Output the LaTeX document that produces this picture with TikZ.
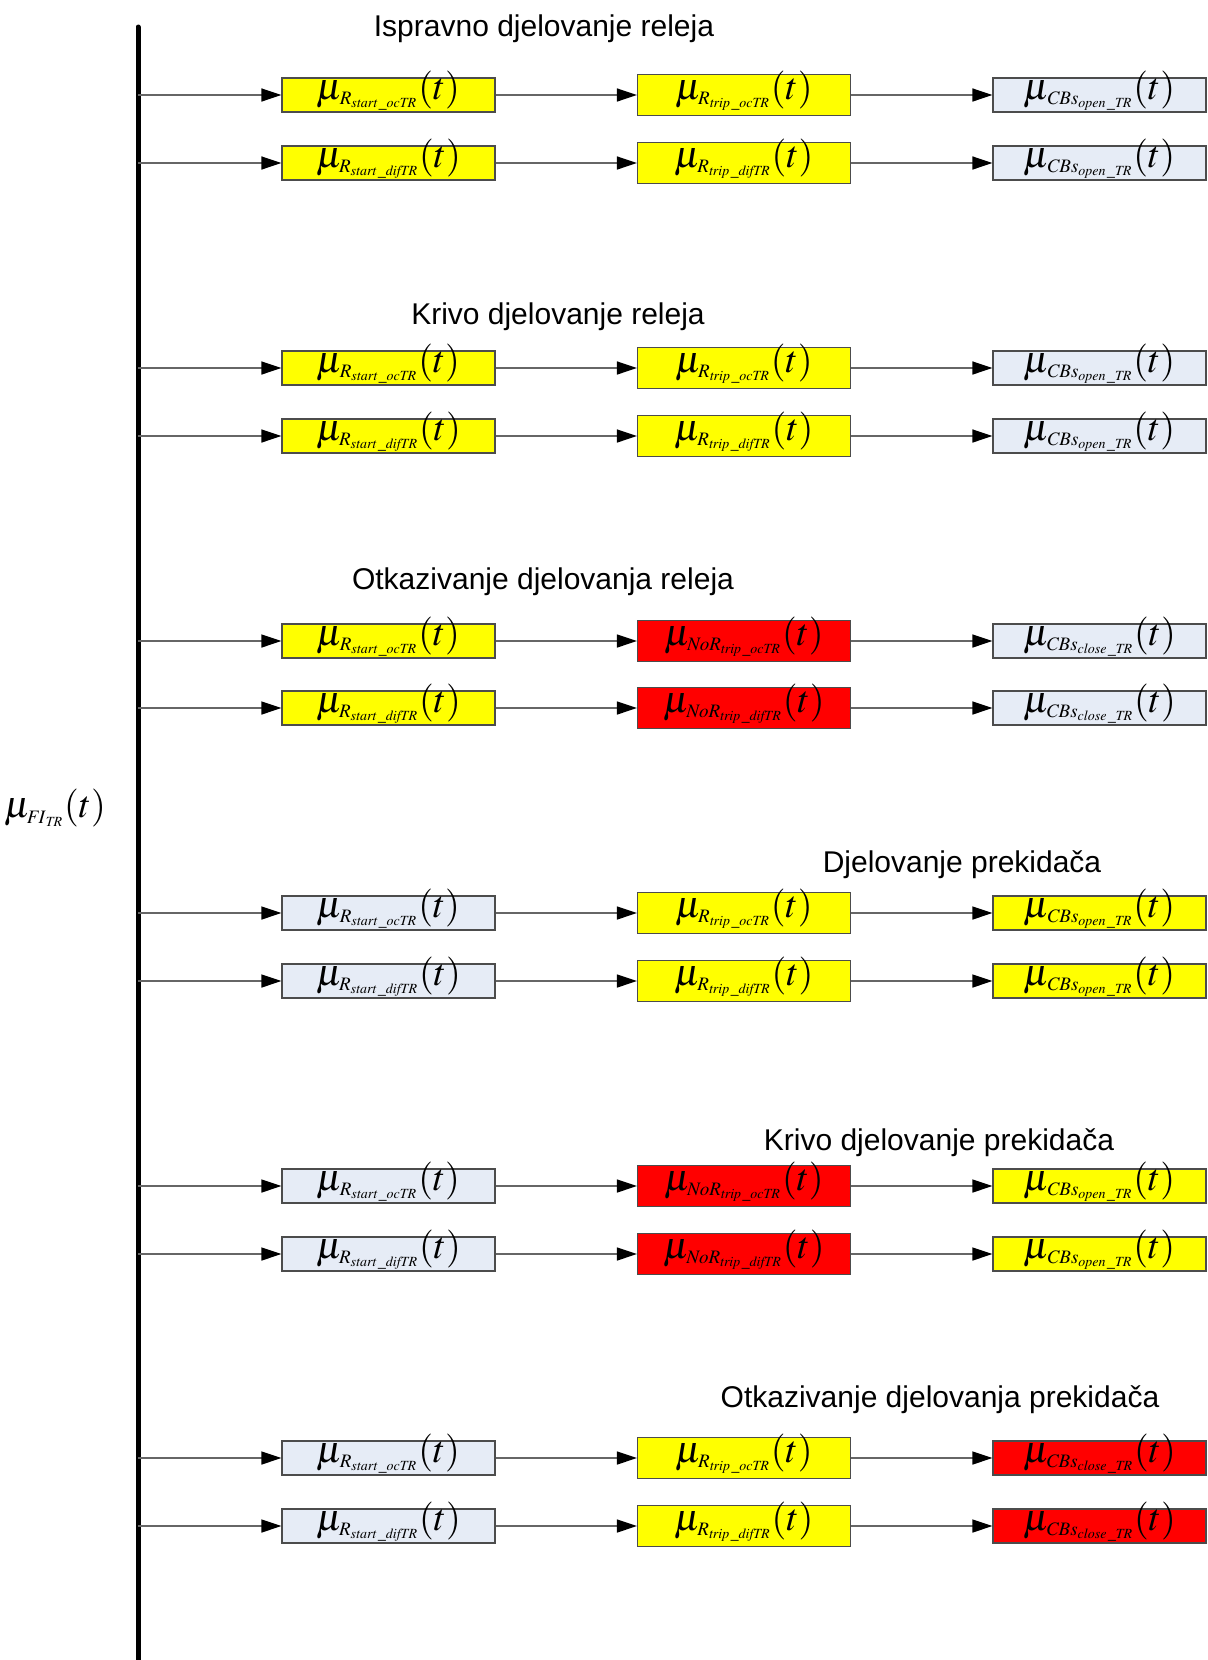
\documentclass[tikz,border=0pt]{standalone}
\usepackage{amsmath}
\usepackage{mathptmx}
\usepackage[no-math]{fontspec}
\setmainfont{Liberation Sans}
\usetikzlibrary{positioning,arrows.meta}
\DeclareMathSizes{19}{19}{9.5}{7}
\definecolor{relayon}{RGB}{255,255,0}
\definecolor{relayfail}{RGB}{255,0,0}
\definecolor{relayoff}{RGB}{230,236,246}
\newcommand{\rstart}[1]{\ensuremath{\mu_{R_{\mathit{start}\,\_\mathit{#1TR}}}(t)}}
\newcommand{\rtrip}[1]{\ensuremath{\mu_{R_{\mathit{trip}\,\_\mathit{#1TR}}}(t)}}
\newcommand{\nortrip}[1]{\ensuremath{\mu_{\mathit{NoR}_{\mathit{trip}\,\_\mathit{#1TR}}}(t)}}
\newcommand{\cbs}[1]{\ensuremath{\mu_{\mathit{CBs}_{\mathit{#1}\,\_\mathit{TR}}}(t)}}

\begin{document}
\begin{tikzpicture}[x=0.5pt,y=-0.5pt,
  box/.style={draw=black!70,line width=0.6pt,minimum width=106.5pt,minimum height=17pt,
    inner sep=0pt,text height=10.5pt,text depth=6.5pt,font=\fontsize{19}{21}\selectfont},
  on/.style={box,fill=relayon},
  off/.style={box,fill=relayoff},
  fail/.style={box,fill=relayfail},
  tall/.style={minimum height=20.5pt,text height=12.25pt,text depth=8.25pt},
  flow/.style={draw=black!60,line width=0.75pt,-{Triangle[length=10pt,width=6.5pt,color=black]}},
  title/.style={font=\fontsize{15}{18}\selectfont}]
  \useasboundingbox (0,0) rectangle (1207,1660);
  % bus
  \coordinate (busT) at (138,27);
  \coordinate (busB) at (138,1666);
  \draw[line width=2.5pt,line cap=round] (busT) -- (busB);
  \node[font=\fontsize{19}{21}\selectfont] (fi) at (55,808) {$\mu_{\mathit{FI}_{\mathit{TR}}}(t)$};

  % Ispravno djelovanje releja
  \node[title] (g1) at (544,29) {Ispravno djelovanje releja};
  \node[on] (s1) at (388.5,95) {\rstart{oc}};
  \node[on,tall] (t1) at (744,95) {\rtrip{oc}};
  \node[off] (c1) at (1099.5,95) {\cbs{open}};
  \node[on] (s2) at (388.5,163) {\rstart{dif}};
  \node[on,tall] (t2) at (744,163) {\rtrip{dif}};
  \node[off] (c2) at (1099.5,163) {\cbs{open}};

  % Krivo djelovanje releja
  \node[title] (g2) at (558,317) {Krivo djelovanje releja};
  \node[on] (s3) at (388.5,368) {\rstart{oc}};
  \node[on,tall] (t3) at (744,368) {\rtrip{oc}};
  \node[off] (c3) at (1099.5,368) {\cbs{open}};
  \node[on] (s4) at (388.5,436) {\rstart{dif}};
  \node[on,tall] (t4) at (744,436) {\rtrip{dif}};
  \node[off] (c4) at (1099.5,436) {\cbs{open}};

  % Otkazivanje djelovanja releja
  \node[title] (g3) at (543,582) {Otkazivanje djelovanja releja};
  \node[on] (s5) at (388.5,641) {\rstart{oc}};
  \node[fail,tall] (t5) at (744,641) {\nortrip{oc}};
  \node[off] (c5) at (1099.5,641) {\cbs{close}};
  \node[on] (s6) at (388.5,708) {\rstart{dif}};
  \node[fail,tall] (t6) at (744,708) {\nortrip{dif}};
  \node[off] (c6) at (1099.5,708) {\cbs{close}};

  % Djelovanje prekidaca
  \node[title] (g4) at (962,865) {Djelovanje prekidača};
  \node[off] (s7) at (388.5,913) {\rstart{oc}};
  \node[on,tall] (t7) at (744,913) {\rtrip{oc}};
  \node[on] (c7) at (1099.5,913) {\cbs{open}};
  \node[off] (s8) at (388.5,981) {\rstart{dif}};
  \node[on,tall] (t8) at (744,981) {\rtrip{dif}};
  \node[on] (c8) at (1099.5,981) {\cbs{open}};

  % Krivo djelovanje prekidaca
  \node[title] (g5) at (939,1143) {Krivo djelovanje prekidača};
  \node[off] (s9) at (388.5,1186) {\rstart{oc}};
  \node[fail,tall] (t9) at (744,1186) {\nortrip{oc}};
  \node[on] (c9) at (1099.5,1186) {\cbs{open}};
  \node[off] (s10) at (388.5,1254) {\rstart{dif}};
  \node[fail,tall] (t10) at (744,1254) {\nortrip{dif}};
  \node[on] (c10) at (1099.5,1254) {\cbs{open}};

  % Otkazivanje djelovanja prekidaca
  \node[title] (g6) at (940,1400) {Otkazivanje djelovanja prekidača};
  \node[off] (s11) at (388.5,1458) {\rstart{oc}};
  \node[on,tall] (t11) at (744,1458) {\rtrip{oc}};
  \node[fail] (c11) at (1099.5,1458) {\cbs{close}};
  \node[off] (s12) at (388.5,1526) {\rstart{dif}};
  \node[on,tall] (t12) at (744,1526) {\rtrip{dif}};
  \node[fail] (c12) at (1099.5,1526) {\cbs{close}};

  % connectors
  \foreach \i in {1,...,12} {
    \draw[flow] (busT |- s\i.west) -- (s\i.west);
    \draw[flow] (s\i.east) -- (t\i.west);
    \draw[flow] (t\i.east) -- (c\i.west);
  }
\end{tikzpicture}
\end{document}
